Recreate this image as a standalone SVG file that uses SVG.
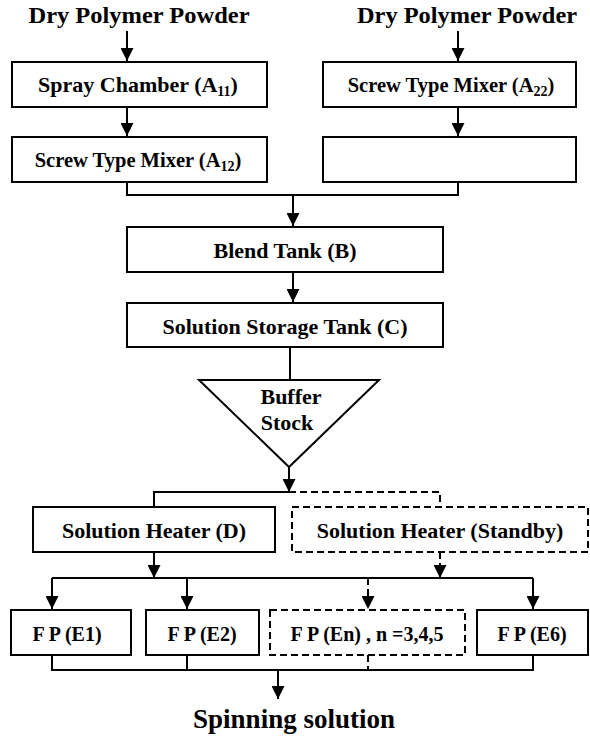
<svg xmlns="http://www.w3.org/2000/svg" width="590" height="736" viewBox="0 0 590 736">
<style>
.box{fill:#fff;stroke:#000;stroke-width:2}
.dash{stroke-dasharray:7 4}
.ln{fill:none;stroke:#000;stroke-width:2}
</style>
<defs>
<marker id="ah" markerUnits="userSpaceOnUse" markerWidth="14" markerHeight="13" refX="13" refY="6.5" orient="auto">
<path d="M0,0 L13,6.5 L0,13 z" fill="#000"/>
</marker>
</defs>
<rect width="590" height="736" fill="#fff"/>

<g id="connectors">
<path class="ln" d="M127,31 V61" marker-end="url(#ah)"/>
<path class="ln" d="M127,107 V136" marker-end="url(#ah)"/>
<path class="ln" d="M458,31 V61" marker-end="url(#ah)"/>
<path class="ln" d="M458,107 V136" marker-end="url(#ah)"/>
<path class="ln" d="M127,182 V195 H458 V182"/>
<path class="ln" d="M293,195 V226" marker-end="url(#ah)"/>
<path class="ln" d="M293,272 V302" marker-end="url(#ah)"/>
<path class="ln" d="M290,347 V380"/>
<path class="ln" d="M289,467 V492" marker-end="url(#ah)"/>
<path class="ln" d="M289,492 H154 V507"/>
<path class="ln dash" d="M289,492 H440 V507"/>
<path class="ln" d="M154,552 V578" marker-end="url(#ah)"/>
<path class="ln dash" d="M440,552 V578" marker-end="url(#ah)"/>
<path class="ln" d="M52,578 H533"/>
<path class="ln" d="M52,578 V609" marker-end="url(#ah)"/>
<path class="ln" d="M187,578 V609" marker-end="url(#ah)"/>
<path class="ln dash" d="M368,578 V609" marker-end="url(#ah)"/>
<path class="ln" d="M533,578 V609" marker-end="url(#ah)"/>
<path class="ln" d="M52,655 V670 H533 V655"/>
<path class="ln" d="M187,655 V670"/>
<path class="ln dash" d="M368,655 V670"/>
<path class="ln" d="M278,670 V699" marker-end="url(#ah)"/>
</g>

<g id="title-left"><text x="139" y="23" font-family="Liberation Serif" font-weight="bold" text-anchor="middle" font-size="24" textLength="221" lengthAdjust="spacingAndGlyphs">Dry Polymer Powder</text></g>
<g id="title-right"><text x="467" y="23" font-family="Liberation Serif" font-weight="bold" text-anchor="middle" font-size="24" textLength="220" lengthAdjust="spacingAndGlyphs">Dry Polymer Powder</text></g>

<g id="spray-a11">
<rect class="box" x="12" y="62" width="255" height="45"/>
<text x="138" y="92" font-family="Liberation Serif" font-weight="bold" text-anchor="middle" font-size="22">Spray Chamber (A<tspan font-size="14" dy="4">11</tspan><tspan dy="-4">)</tspan></text>
</g>
<g id="screw-a12">
<rect class="box" x="12" y="137" width="255" height="45"/>
<text x="138" y="167" font-family="Liberation Serif" font-weight="bold" text-anchor="middle" font-size="20.5">Screw Type Mixer (A<tspan font-size="14" dy="4">12</tspan><tspan dy="-4">)</tspan></text>
</g>
<g id="screw-a22">
<rect class="box" x="323" y="62" width="253" height="45"/>
<text x="451" y="92" font-family="Liberation Serif" font-weight="bold" text-anchor="middle" font-size="20.5">Screw Type Mixer (A<tspan font-size="14" dy="4">22</tspan><tspan dy="-4">)</tspan></text>
</g>
<g id="empty-box">
<rect class="box" x="323" y="137" width="253" height="45"/>
</g>
<g id="blend">
<rect class="box" x="127" y="227" width="316" height="45"/>
<text x="285" y="258" font-family="Liberation Serif" font-weight="bold" text-anchor="middle" font-size="22">Blend Tank (B)</text>
</g>
<g id="storage">
<rect class="box" x="127" y="303" width="316" height="44"/>
<text x="285" y="334" font-family="Liberation Serif" font-weight="bold" text-anchor="middle" font-size="22">Solution Storage Tank (C)</text>
</g>
<g id="buffer">
<path class="box" d="M199,380 H379 L289,467 z"/>
<text x="291" y="404" font-family="Liberation Serif" font-weight="bold" text-anchor="middle" font-size="22">Buffer</text>
<text x="287" y="430" font-family="Liberation Serif" font-weight="bold" text-anchor="middle" font-size="22">Stock</text>
</g>
<g id="heater-d">
<rect class="box" x="33" y="507" width="242" height="45"/>
<text x="154" y="538" font-family="Liberation Serif" font-weight="bold" text-anchor="middle" font-size="22">Solution Heater (D)</text>
</g>
<g id="heater-standby">
<rect class="box dash" x="292" y="507" width="296" height="45"/>
<text x="440" y="538" font-family="Liberation Serif" font-weight="bold" text-anchor="middle" font-size="22">Solution Heater (Standby)</text>
</g>
<g id="fp-e1">
<rect class="box" x="11" y="610" width="120" height="45"/>
<text x="67" y="641" font-family="Liberation Serif" font-weight="bold" text-anchor="middle" font-size="20">F P (E1)</text>
</g>
<g id="fp-e2">
<rect class="box" x="146" y="610" width="113" height="45"/>
<text x="202" y="641" font-family="Liberation Serif" font-weight="bold" text-anchor="middle" font-size="20">F P (E2)</text>
</g>
<g id="fp-en">
<rect class="box dash" x="270" y="610" width="195" height="45"/>
<text x="367" y="641" font-family="Liberation Serif" font-weight="bold" text-anchor="middle" font-size="20">F P (En) , n =3,4,5</text>
</g>
<g id="fp-e6">
<rect class="box" x="477" y="610" width="111" height="45"/>
<text x="532" y="641" font-family="Liberation Serif" font-weight="bold" text-anchor="middle" font-size="20">F P (E6)</text>
</g>
<g id="spinning"><text x="294" y="728" font-family="Liberation Serif" font-weight="bold" text-anchor="middle" font-size="27">Spinning solution</text></g>
</svg>
